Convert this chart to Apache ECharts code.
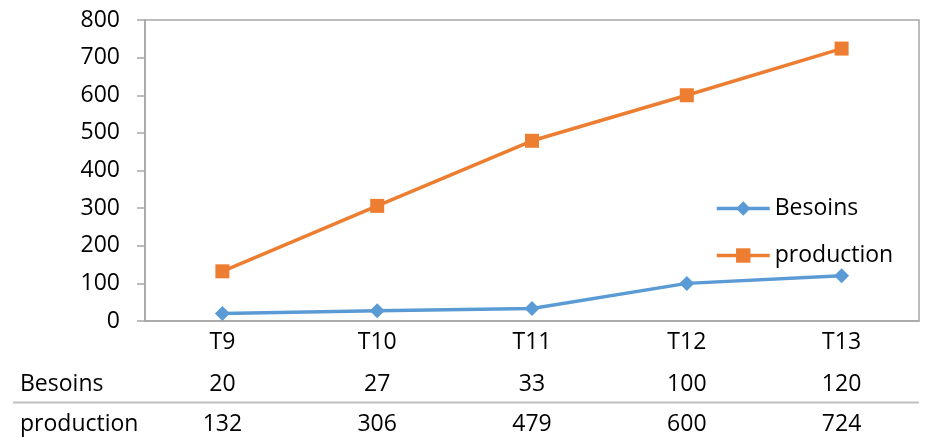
<!DOCTYPE html>
<html>
<head>
<meta charset="utf-8">
<script src="https://cdn.jsdelivr.net/npm/echarts@6/dist/echarts.min.js"></script>
<style>html,body{margin:0;padding:0;background:#fff;}#c{width:926px;height:437px;}</style>
</head>
<body>
<div id="c"></div>
<script>
var categories = ['T9', 'T10', 'T11', 'T12', 'T13'];
var besoins = [20, 27, 33, 100, 120];
var production = [132, 306, 479, 600, 724];
var seriesNames = ['Besoins', 'production'];
var yTicks = {min: 0, max: 800, interval: 100};

var FONT = 'Open Sans';
var FS = 23;
var chart = echarts.init(document.getElementById('c'));
var tableAxis = function (vals, margin) {
  return {
    type: 'category', data: categories, position: 'bottom',
    axisLine: {show: false}, axisTick: {show: false}, splitLine: {show: false},
    axisLabel: {margin: margin, fontFamily: FONT, fontSize: FS, color: '#000',
      formatter: function (v, i) { return String(vals[i]); }}
  };
};
chart.setOption({
  animation: false,
  textStyle: {fontFamily: FONT},
  grid: {left: 145, right: 7, top: 20, bottom: 116, show: true, borderColor: '#a6a6a6', borderWidth: 1.5},
  legend: {
    orient: 'vertical', left: 710, top: 192, itemWidth: 53, itemHeight: 18, itemGap: 24,
    textStyle: {fontFamily: FONT, fontSize: FS, color: '#000'},
    lineStyle: {width: 3.5},
    data: seriesNames
  },
  xAxis: [
    {type: 'category', data: categories, boundaryGap: true,
      axisLine: {lineStyle: {color: '#a6a6a6', width: 1.5}}, axisTick: {show: false},
      axisLabel: {margin: 10, fontFamily: FONT, fontSize: FS, color: '#000'}},
    tableAxis(besoins, 52),
    tableAxis(production, 92)
  ],
  yAxis: {
    type: 'value', min: yTicks.min, max: yTicks.max, interval: yTicks.interval,
    axisLine: {show: true, lineStyle: {color: '#a6a6a6', width: 1.5}},
    axisTick: {show: true, length: 8, lineStyle: {color: '#a6a6a6', width: 1.5}},
    splitLine: {show: false},
    axisLabel: {margin: 25, fontFamily: FONT, fontSize: FS, color: '#000'}
  },
  graphic: [
    {type: 'line', shape: {x1: 13, y1: 402.5, x2: 919, y2: 402.5}, style: {stroke: '#bfbfbf', lineWidth: 2}},
    {type: 'text', left: 20, top: 373, style: {text: seriesNames[0], fontFamily: FONT, fontSize: FS, fill: '#000'}},
    {type: 'text', left: 20, top: 413, style: {text: seriesNames[1], fontFamily: FONT, fontSize: FS, fill: '#000'}}
  ],
  series: [
    {name: seriesNames[0], type: 'line', data: besoins, symbol: 'diamond', symbolSize: 15,
      itemStyle: {color: '#5B9BD5'}, lineStyle: {width: 3.5, color: '#5B9BD5'}},
    {name: seriesNames[1], type: 'line', data: production, symbol: 'rect', symbolSize: 14,
      itemStyle: {color: '#ED7D31'}, lineStyle: {width: 3.5, color: '#ED7D31'}}
  ]
});
</script>
</body>
</html>
